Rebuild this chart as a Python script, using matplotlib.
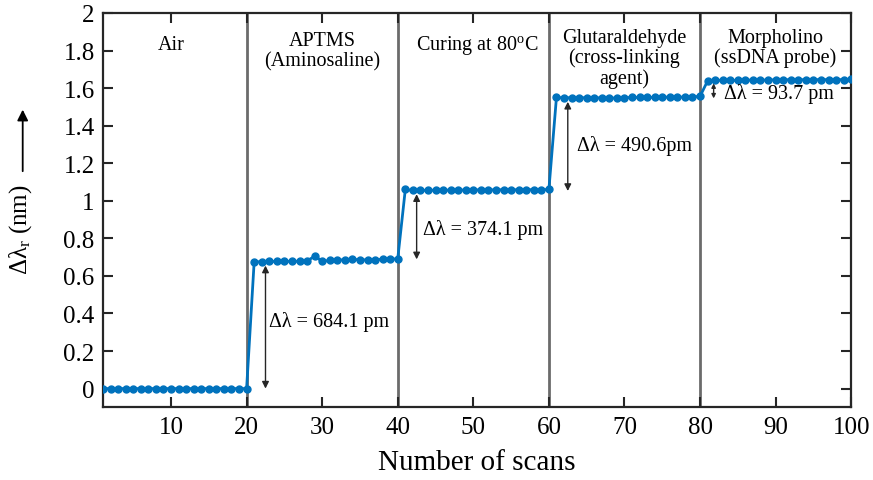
import matplotlib
matplotlib.use("Agg")
import matplotlib.pyplot as plt
from matplotlib.ticker import FuncFormatter

# ---------- fonts ----------
plt.rcParams["font.family"] = ["Liberation Serif", "DejaVu Serif"]
plt.rcParams["mathtext.fontset"] = "custom"
plt.rcParams["mathtext.rm"] = "Liberation Serif"
plt.rcParams["mathtext.it"] = "Liberation Serif:italic"

# ---------- data ----------
scans = list(range(1, 101))

air = [0.0] * 20
aptms = [0.674, 0.676, 0.677, 0.677, 0.678, 0.677, 0.678, 0.679, 0.705, 0.678,
         0.682, 0.684, 0.686, 0.688, 0.686, 0.685, 0.687, 0.688, 0.689, 0.691]
curing = [1.060, 1.055, 1.055, 1.056, 1.056, 1.056, 1.057, 1.057, 1.057, 1.058,
          1.058, 1.058, 1.058, 1.059, 1.058, 1.059, 1.059, 1.059, 1.059, 1.060]
glutar = [1.550, 1.548, 1.549, 1.548, 1.549, 1.548, 1.548, 1.548, 1.546, 1.549,
          1.550, 1.550, 1.551, 1.550, 1.551, 1.552, 1.552, 1.552, 1.553, 1.556]
morph = [1.638, 1.642, 1.641, 1.641, 1.641, 1.642, 1.643, 1.642, 1.643, 1.644,
         1.644, 1.645, 1.644, 1.645, 1.645, 1.645, 1.645, 1.645, 1.645, 1.646]
shift = air + aptms + curing + glutar + morph

stage_bounds = [20, 40, 60, 80]
stage_labels = ["Air", "APTMS\n(Aminosaline)", "Curing at 80$^\\mathrm{o}$C",
                "Glutaraldehyde\n(cross-linking\nagent)", "Morpholino\n(ssDNA probe)"]
stage_x = [10, 30, 50.5, 70, 90]
stage_y = [1.83, 1.80, 1.83, 1.762, 1.815]

# double arrows: x, y_low, y_high, text, text_x, text_y
steps_x = [22.5, 42.5, 62.5, 81.8]
steps_lo = [0.0, 0.688, 1.052, 1.545]
steps_hi = [0.655, 1.035, 1.527, 1.625]
steps_txt = ["Δλ = 684.1 pm", "Δλ = 374.1 pm", "Δλ = 490.6pm", "Δλ = 93.7 pm"]
steps_tx = [23.0, 43.4, 63.7, 83.2]
steps_ty = [0.36, 0.848, 1.296, 1.572]
head_size = [10, 10, 10, 6]

DARK = "#262626"
BLUE = "#0072BD"

# ---------- figure ----------
fig = plt.figure(figsize=(8.73, 4.81), dpi=100)
ax = fig.add_axes([0.118, 0.151, 0.857, 0.820])

for xb in stage_bounds:
    ax.axvline(xb, color="#6b6b6b", lw=2, zorder=1)

ax.plot(scans, shift, color=BLUE, lw=2, marker="o", markersize=5, zorder=3)

for x, lo, hi, txt, tx, ty, hs in zip(steps_x, steps_lo, steps_hi, steps_txt,
                                      steps_tx, steps_ty, head_size):
    ax.annotate("", xy=(x, hi), xytext=(x, lo),
                arrowprops=dict(arrowstyle="<|-|>", color=DARK, lw=1,
                                mutation_scale=hs, shrinkA=0, shrinkB=0))
    ax.text(tx, ty, txt, fontsize=14.5, ha="left", va="center", color="black")

for lab, sx, sy in zip(stage_labels, stage_x, stage_y):
    ax.text(sx, sy, lab, fontsize=14.5, ha="center", va="center",
            linespacing=1.05, color="black")

ax.set_xlim(1, 100)
ax.set_ylim(-0.1, 2)
ax.set_xticks(range(10, 101, 10))
ax.set_yticks([i * 0.2 for i in range(11)])
ax.yaxis.set_major_formatter(FuncFormatter(lambda v, p: "%g" % round(v, 1)))
ax.tick_params(direction="in", length=7, width=1.5, top=True, right=True,
               labelsize=18, color=DARK, labelcolor="black", pad=6)
for sp in ax.spines.values():
    sp.set_linewidth(1.6)
    sp.set_color(DARK)

ax.set_xlabel("Number of scans", fontsize=21, labelpad=8)

# y label with long arrow
fig.text(0.023, 0.522, "Δλ$_\\mathrm{r}$ (nm)", rotation=90, fontsize=18,
         ha="center", va="center")
ax.annotate("", xy=(0.026, 0.77), xytext=(0.026, 0.642),
            xycoords="figure fraction", textcoords="figure fraction",
            arrowprops=dict(arrowstyle="-|>", color="black", lw=1.3,
                            mutation_scale=16, shrinkA=0, shrinkB=0))

fig.savefig("out.png", dpi=100, facecolor="white")
